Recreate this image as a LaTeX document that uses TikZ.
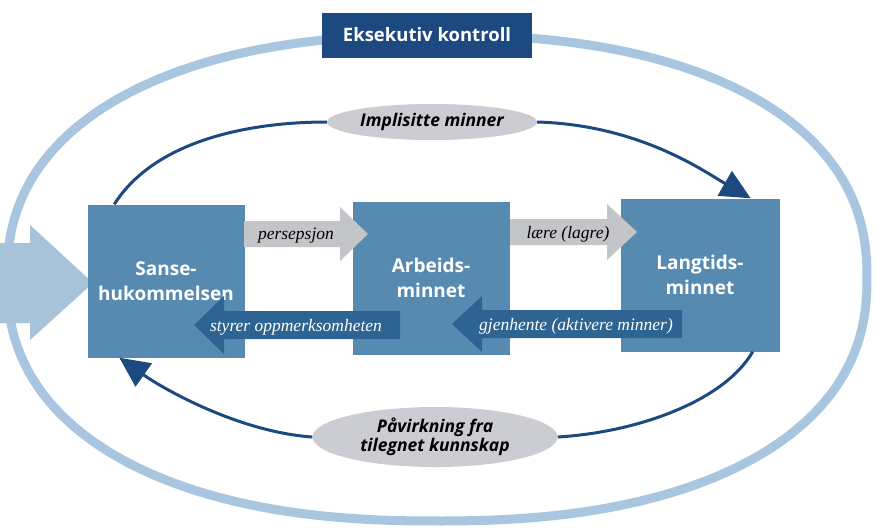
\documentclass[tikz,border=0pt]{standalone}
\usepackage{fontspec}
\setmainfont{Liberation Serif}
\setsansfont{Open Sans}
\usetikzlibrary{arrows.meta,shapes.geometric}
\definecolor{boxblue}{RGB}{86,138,177}
\definecolor{darkarr}{RGB}{46,100,146}
\definecolor{navy}{RGB}{28,74,128}
\definecolor{grayarr}{RGB}{196,197,201}
\definecolor{ellgray}{RGB}{204,205,210}
\definecolor{lightblue}{RGB}{168,198,223}
\tikzset{
  membox/.style={fill=boxblue, minimum width=157pt, minimum height=153pt, inner sep=0pt,
    text=white, align=center, font=\sffamily\bfseries\fontsize{19}{25}\selectfont},
  arrlabel/.style={inner sep=0pt, font=\itshape\fontsize{17.5}{20}\selectfont},
  oval/.style={ellipse, fill=ellgray, inner sep=0pt, align=center,
    font=\sffamily\bfseries\itshape\fontsize{17.5}{18.5}\selectfont},
  flow/.style={draw=navy, line width=3pt, -{Triangle[length=30pt,width=28pt]}},
  flowplain/.style={draw=navy, line width=3pt}
}
\begin{document}
\begin{tikzpicture}[x=1pt,y=-1pt]
\useasboundingbox (0,0) rectangle (877,531);
\fill[white] (0,0) rectangle (877,531);
% outer loop (slightly squared ellipse)
\draw[lightblue, line width=9pt] plot[domain=1:357, samples=90, smooth cycle]
  ({437+430*cos(\x)*pow(abs(cos(\x)),-0.13)}, {278+243*sin(\x)*pow(abs(sin(\x)),-0.13)});
% executive box
\node[fill=navy, minimum width=210pt, minimum height=45pt, inner sep=0pt, text=white,
  font=\sffamily\bfseries\fontsize{18.5}{20}\selectfont] (exec) at (427,35) {Eksekutiv kontroll};
% input arrow
\fill[lightblue!95!gray] (0,243) -- (30,243) -- (30,225) -- (93,283) -- (30,340) -- (30,323) -- (0,323) -- cycle;
% memory boxes
\node[membox] (sanse) at (166,281) {Sanse-\\hukommelsen};
\node[membox] (arb) at (431,278) {Arbeids-\\minnet};
\node[membox, minimum width=159pt] (lang) at (700,275) {Langtids-\\minnet};
% forward arrows
\fill[grayarr] (244,221) -- (340,221) -- (340,207) -- (368,234) -- (340,261) -- (340,247) -- (244,247) -- cycle;
\node[arrlabel] (pers) at (296,236) {persepsjon};
\fill[grayarr] (510,219) -- (607,219) -- (607,204) -- (637,232) -- (607,260) -- (607,245) -- (510,245) -- cycle;
\node[arrlabel] (laere) at (568,234) {lære (lagre)};
% backward arrows
\fill[darkarr] (400,311) -- (224,311) -- (224,296) -- (194,325) -- (224,354) -- (224,339) -- (400,339) -- cycle;
\node[arrlabel, text=white] (styrer) at (296,327) {styrer oppmerksomheten};
\fill[darkarr] (682,310) -- (482,310) -- (482,296) -- (452,324) -- (482,352) -- (482,338) -- (682,338) -- cycle;
\node[arrlabel, text=white] (gjen) at (576,326) {gjenhente (aktivere minner)};
% ovals
\node[oval, minimum width=210pt, minimum height=36pt] (impl) at (432,122) {Implisitte minner};
\node[oval, minimum width=245pt, minimum height=60pt] (pav) at (435,437) {Påvirkning fra\\tilegnet kunnskap};
% loop curves
\draw[flowplain] ([xshift=27pt]sanse.north west) .. controls (155,140) and (250,122) .. (impl.west);
\draw[flow] (impl.east) .. controls (640,125) and (705,172) .. ([xshift=-29pt]lang.north east);
\draw[flowplain] ([xshift=-27pt]lang.south east) .. controls (725,400) and (640,432) .. (pav.east);
\draw[flow] (pav.west) .. controls (240,432) and (165,390) .. ([xshift=32pt]sanse.south west);
\end{tikzpicture}
\end{document}
